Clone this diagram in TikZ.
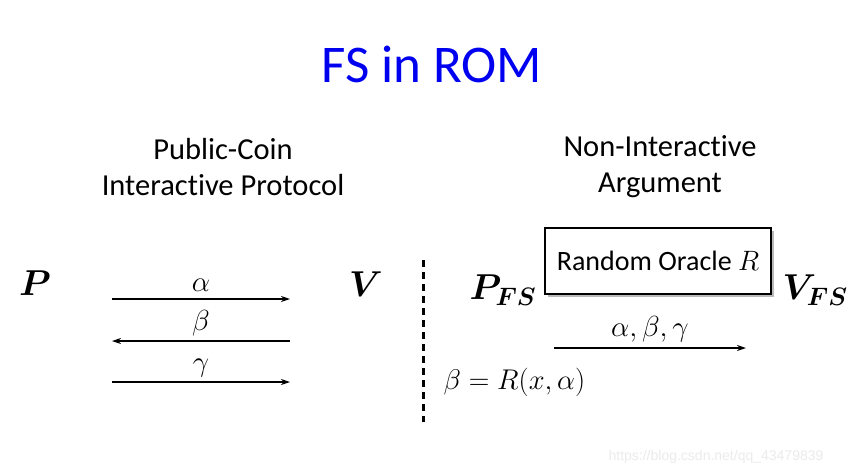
\RequirePackage{fix-cm}
\documentclass[tikz,border=0pt]{standalone}
\usepackage{amsmath,bm}
\usepackage{fontspec}
\setmainfont[Ligatures=NoCommon]{Carlito}
\newfontfamily\wmfont{Liberation Sans}
\usetikzlibrary{arrows.meta,shadows}
\definecolor{titleblue}{RGB}{0,0,240}
\begin{document}
\begin{tikzpicture}[x=1pt,y=-1pt,
  msg/.style={line width=2pt,-{Stealth[length=9pt,width=6pt]}},
  party/.style={font=\fontsize{36}{40}\selectfont},
  heading/.style={font=\fontsize{30.5}{36}\selectfont,align=center},
  lbl/.style={font=\fontsize{29}{30}\selectfont}]
\useasboundingbox[fill=white] (0,0) rectangle (848,475);
\node[text=titleblue,font=\fontsize{53}{60}\selectfont] (title) at (432,64) {FS in ROM};
\node[heading] (pc) at (223,167) {Public-Coin\\Interactive Protocol};
\node[heading] (ni) at (660,167) {Non-Interactive\\Argument};
% left
\node[party] (P) at (35,283) {$\bm{P}$};
\node[party] (V) at (366,284) {$\bm{V}$};
\coordinate (a1) at (112,299); \coordinate (a2) at (290,299);
\coordinate (b1) at (112,341); \coordinate (b2) at (290,341);
\coordinate (c1) at (112,382); \coordinate (c2) at (290,382);
\draw[msg] (a1) -- node[lbl,above=3pt] (la) {$\alpha$} (a2);
\draw[msg] (b2) -- node[lbl,above=1pt] (lb) {$\beta$} (b1);
\draw[msg] (c1) -- node[lbl,above=1pt] (lc) {$\gamma$} (c2);
% divider
\coordinate (d1) at (423,260); \coordinate (d2) at (423,422);
\draw[line width=3pt,dash pattern=on 7pt off 5pt] (d1) -- (d2);
% right
\node[party,anchor=west] (PFS) at (466,290) {$\bm{P}_{\bm{F}\bm{S}}$};
\node[party,anchor=west] (VFS) at (779,290) {$\bm{V}_{\bm{F}\bm{S}}$};
\node[draw,line width=2.2pt,fill=white,minimum width=226pt,minimum height=66pt,
      font=\fontsize{28}{30}\selectfont,
      drop shadow={shadow xshift=3pt,shadow yshift=-3pt,fill=black!45,opacity=0.6}]
      (RO) at (658,261) {Random Oracle $R$};
\coordinate (f1) at (554,348); \coordinate (f2) at (746,348);
\draw[msg] (f1) -- node[lbl,above=2pt] (lf) {$\alpha,\beta,\gamma$} (f2);
\node[lbl,anchor=west,font=\fontsize{28.5}{30}\selectfont] (eq) at (440,382) {$\beta = R(x,\alpha)$};
\node[text=black!8,font=\wmfont\fontsize{14}{16}\selectfont] (wm) at (716,457) {https://blog.csdn.net/qq\_43479839};
\end{tikzpicture}
\end{document}
